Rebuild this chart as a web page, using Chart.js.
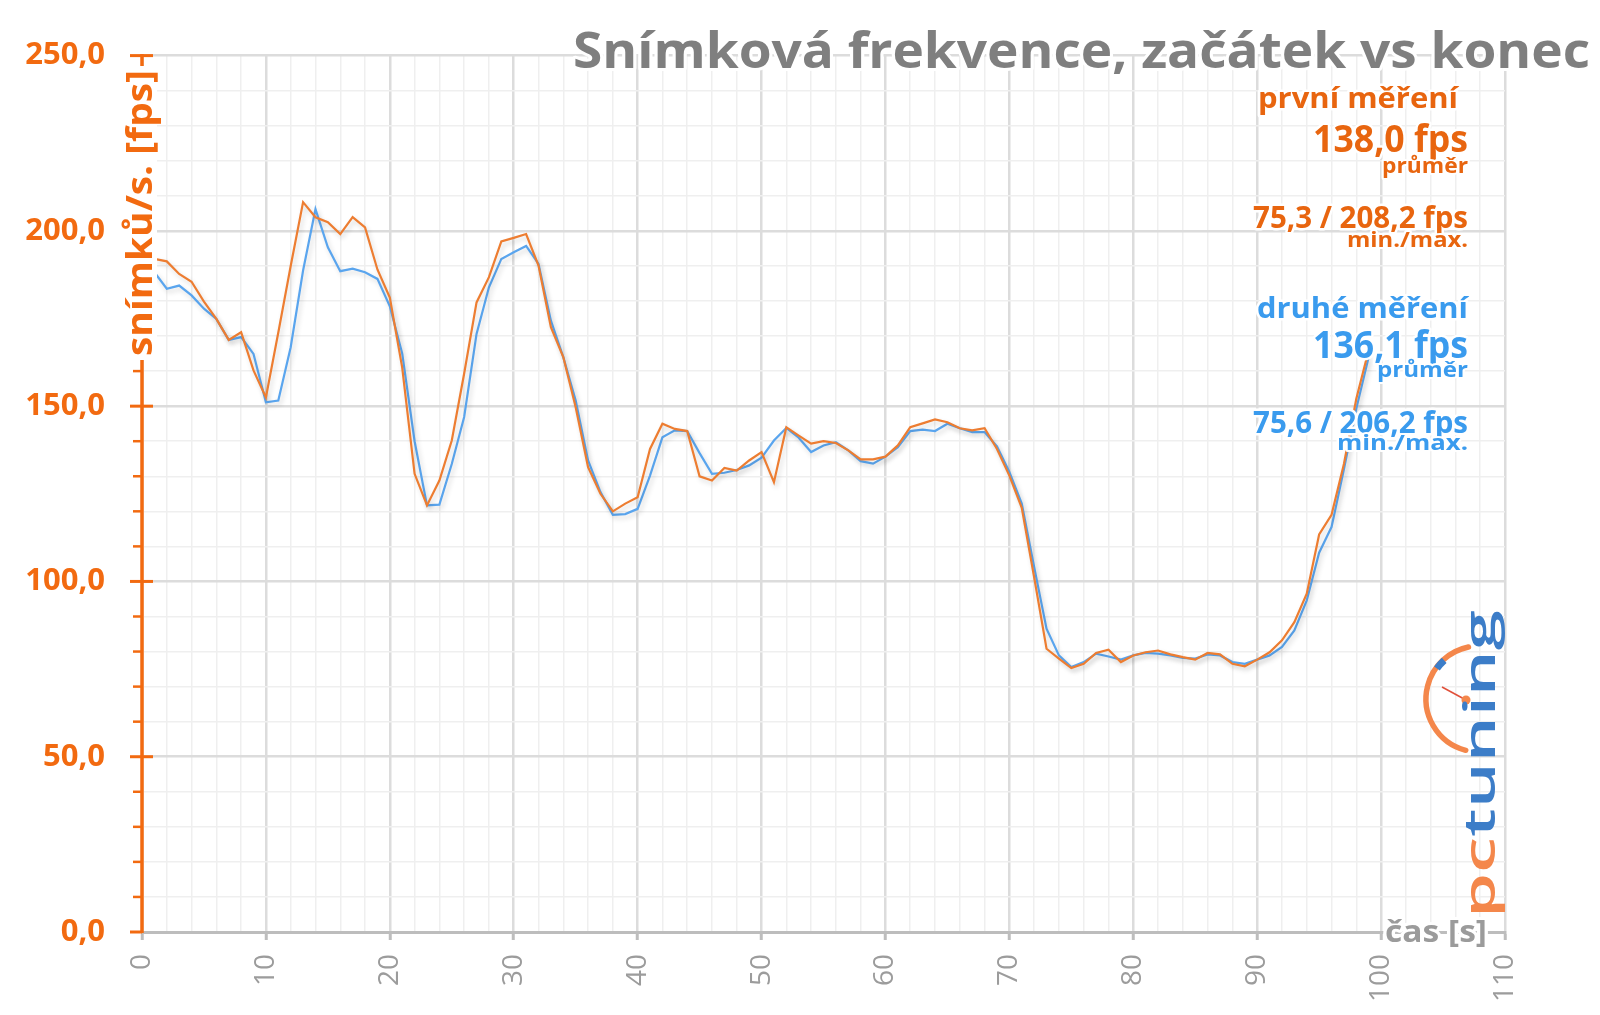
<!DOCTYPE html>
<html><head><meta charset="utf-8">
<script src="https://cdn.jsdelivr.net/npm/chart.js@4.4.1/dist/chart.umd.min.js"></script>
<style>html,body{margin:0;padding:0;background:#fff;}#wrap{width:1600px;height:1015px;}canvas{display:block;}</style>
</head><body><div id="wrap"><canvas id="c" width="1600" height="1015"></canvas></div>
<script>
// ---- data ----
const seconds = [1,2,3,4,5,6,7,8,9,10,11,12,13,14,15,16,17,18,19,20,21,22,23,24,25,26,27,28,29,30,31,32,33,34,35,36,37,38,39,40,41,42,43,44,45,46,47,48,49,50,51,52,53,54,55,56,57,58,59,60,61,62,63,64,65,66,67,68,69,70,71,72,73,74,75,76,77,78,79,80,81,82,83,84,85,86,87,88,89,90,91,92,93,94,95,96,97,98,99];
const firstRun = [192.0,191.3,187.7,185.5,179.8,174.9,168.9,171.1,160.2,152.5,171.0,190.0,208.2,203.9,202.5,199.1,203.9,201.0,189.0,181.0,161.0,130.7,121.7,128.8,140.2,159.3,179.6,186.8,197.0,198.0,199.1,190.1,172.5,164.0,149.7,132.6,125.0,120.0,122.2,124.0,137.8,145.0,143.5,142.9,130.0,128.8,132.4,131.6,134.5,136.9,128.3,144.0,141.6,139.3,140.0,139.5,137.4,134.8,134.8,135.6,138.8,144.0,145.1,146.2,145.4,143.7,143.1,143.7,137.8,130.2,121.0,101.2,80.8,78.0,75.3,76.5,79.6,80.5,77.0,78.9,79.8,80.3,79.2,78.4,77.7,79.6,79.2,76.5,75.8,77.7,79.8,83.2,88.4,96.5,113.4,119.0,133.5,152.1,166.0];
const secondRun = [188.2,183.5,184.4,181.6,177.8,174.9,168.9,169.7,164.9,151.1,151.6,166.8,188.7,206.2,195.3,188.5,189.2,188.2,186.3,178.5,165.0,140.0,121.7,121.9,133.5,146.9,170.6,183.9,192.0,193.9,195.7,190.6,174.4,164.0,151.6,134.5,125.5,119.0,119.2,120.7,130.2,141.1,143.1,142.9,136.6,130.7,131.0,131.8,133.1,135.3,140.2,143.8,141.0,136.9,138.8,139.7,137.4,134.3,133.6,135.6,138.3,142.9,143.3,142.9,145.0,143.7,142.6,142.6,138.5,131.2,122.2,104.1,86.5,78.9,75.6,77.0,79.4,78.6,77.7,78.9,79.6,79.4,78.9,78.2,78.0,79.2,78.9,77.0,76.5,77.7,78.9,81.3,86.0,94.6,108.2,115.5,132.0,149.3,164.0];
const yTickValues = [0,10,20,30,40,50,60,70,80,90,100,110,120,130,140,150,160,170,180,190,200,210,220,230,240,250];
const xTickValues = [0,2,4,6,8,10,12,14,16,18,20,22,24,26,28,30,32,34,36,38,40,42,44,46,48,50,52,54,56,58,60,62,64,66,68,70,72,74,76,78,80,82,84,86,88,90,92,94,96,98,100,102,104,106,108,110];
const chartTitle = 'Snímková frekvence, začátek vs konec';
const yAxisTitle = 'snímků/s. [fps]';
const xAxisTitle = 'čas [s]';
const firstName = 'první měření', firstAvg = '138,0 fps', firstMinMax = '75,3 / 208,2 fps';
const secondName = 'druhé měření', secondAvg = '136,1 fps', secondMinMax = '75,6 / 206,2 fps';
const avgWord = 'průměr', minMaxWord = 'min./max.';

const FONT = "'Open Sans', 'Noto Sans', sans-serif";
const ORANGE_TXT = '#E8650F', BLUE_TXT = '#3A9BEE', AXIS_OR = '#F26A10';

function fitText(ctx, text, x, y, o) {
  ctx.save();
  ctx.font = o.font;
  const w = ctx.measureText(text).width;
  const sx = o.width ? o.width / w : 1;
  ctx.translate(x, y);
  if (o.rotate) ctx.rotate(o.rotate);
  ctx.scale(sx, 1);
  ctx.textAlign = o.align || 'left';
  ctx.textBaseline = o.baseline || 'alphabetic';
  if (o.halo) { ctx.lineJoin = 'round'; ctx.strokeStyle = '#fff'; ctx.lineWidth = o.halo; ctx.strokeText(text, 0, 0); }
  ctx.fillStyle = o.color; ctx.fillText(text, 0, 0);
  ctx.restore();
}

const shadowPlugin = {
  id: 'shadow',
  beforeDatasetDraw(chart) { const c = chart.ctx; c.save(); c.shadowColor = 'rgba(0,0,0,0.16)'; c.shadowBlur = 5; c.shadowOffsetX = 2; c.shadowOffsetY = 3; },
  afterDatasetDraw(chart) { chart.ctx.restore(); }
};

const overlay = {
  id: 'overlay',
  afterDraw(chart) {
    const ctx = chart.ctx, ys = chart.scales.y, xs = chart.scales.x;
    const ax = xs.getPixelForValue(0);
    ctx.save();
    ctx.strokeStyle = AXIS_OR; ctx.lineCap = 'butt';
    ctx.lineWidth = 3.5;
    ctx.beginPath(); ctx.moveTo(ax, ys.getPixelForValue(0) + 1); ctx.lineTo(ax, ys.getPixelForValue(250) - 1.5); ctx.stroke();
    yTickValues.forEach(v => {
      const py = ys.getPixelForValue(v);
      ctx.beginPath();
      if (v % 50 === 0) { ctx.lineWidth = 3; ctx.moveTo(ax - 12, py); ctx.lineTo(v === 0 ? ax : ax + 11, py); }
      else { ctx.lineWidth = 2.5; ctx.moveTo(ax - 9, py); ctx.lineTo(ax + 1, py); }
      ctx.stroke();
    });
    ctx.fillStyle = '#fff';
    ctx.fillRect(ax - 16, 66, 31, 294);
    ctx.restore();
    fitText(ctx, yAxisTitle, ax + 10, 213, { font: 'bold 36px ' + FONT, width: 286, align: 'center', rotate: -Math.PI / 2, color: AXIS_OR });
    fitText(ctx, xAxisTitle, 1385, 942, { font: 'bold 30px ' + FONT, width: 102, color: '#9b9b9b', halo: 6 });
    fitText(ctx, chartTitle, 1590, 68, { font: 'bold 51px ' + FONT, width: 1017, align: 'right', color: '#7f7f7f', halo: 6 });
    const R = 1468;
    fitText(ctx, firstName, 1458, 108, { font: 'bold 28px ' + FONT, width: 200, align: 'right', color: ORANGE_TXT, halo: 5 });
    fitText(ctx, firstAvg, R, 152, { font: 'bold 37px ' + FONT, width: 155, align: 'right', color: ORANGE_TXT, halo: 5 });
    fitText(ctx, avgWord, R, 173, { font: 'bold 21px ' + FONT, width: 86, align: 'right', color: ORANGE_TXT, halo: 4 });
    fitText(ctx, firstMinMax, R, 228, { font: 'bold 30px ' + FONT, width: 215, align: 'right', color: ORANGE_TXT, halo: 5 });
    fitText(ctx, minMaxWord, R, 247, { font: 'bold 21px ' + FONT, width: 121, align: 'right', color: ORANGE_TXT, halo: 4 });
    fitText(ctx, secondName, R, 318, { font: 'bold 29px ' + FONT, width: 211, align: 'right', color: BLUE_TXT, halo: 5 });
    fitText(ctx, secondAvg, R, 358, { font: 'bold 37px ' + FONT, width: 155, align: 'right', color: BLUE_TXT, halo: 5 });
    fitText(ctx, avgWord, R, 377, { font: 'bold 21px ' + FONT, width: 91, align: 'right', color: BLUE_TXT, halo: 4 });
    fitText(ctx, secondMinMax, R, 433, { font: 'bold 30px ' + FONT, width: 215, align: 'right', color: BLUE_TXT, halo: 5 });
    fitText(ctx, minMaxWord, R, 450, { font: 'bold 21px ' + FONT, width: 131, align: 'right', color: BLUE_TXT, halo: 4 });
    drawLogo(ctx);
  }
};

function drawLogo(ctx) {
  ctx.save();
  const cx = 1479, cy = 699, r = 53;
  ctx.strokeStyle = '#F4874B'; ctx.lineWidth = 5.5; ctx.lineCap = 'round';
  ctx.beginPath(); ctx.arc(cx, cy, r, 104.5 * Math.PI / 180, 258.5 * Math.PI / 180); ctx.stroke();
  ctx.strokeStyle = '#3C7DC8'; ctx.lineWidth = 7; ctx.lineCap = 'butt';
  ctx.beginPath(); ctx.arc(cx, cy, r - 1, 216 * Math.PI / 180, 228 * Math.PI / 180); ctx.stroke();
  ctx.strokeStyle = '#E0503A'; ctx.lineWidth = 1.5;
  ctx.beginPath(); ctx.moveTo(1442, 687); ctx.lineTo(1466, 700); ctx.stroke();
  ctx.fillStyle = '#F4874B';
  ctx.beginPath(); ctx.arc(1466, 700, 4.5, 0, Math.PI * 2); ctx.fill();
  ctx.font = '600 44px ' + FONT;
  const wAll = ctx.measureText('pctuning').width;
  const sx = 308 / wAll;
  const wPc = ctx.measureText('pc').width;
  ctx.translate(1495, 918); ctx.rotate(-Math.PI / 2); ctx.scale(sx, 1);
  ctx.textAlign = 'left'; ctx.textBaseline = 'alphabetic';
  ctx.fillStyle = '#F4874B'; ctx.fillText('pc', 0, 0);
  ctx.fillStyle = '#3C7DC8'; ctx.fillText('tuning', wPc, 0);
  ctx.restore();
}

const toPoints = arr => seconds.map((t, i) => ({ x: t, y: arr[i] }));

new Chart(document.getElementById('c'), {
  type: 'line',
  data: {
    datasets: [
      { label: firstName, data: toPoints(firstRun), borderColor: '#ED7D31', borderWidth: 2.2, pointRadius: 0, tension: 0, fill: false },
      { label: secondName, data: toPoints(secondRun), borderColor: '#5AA5EE', borderWidth: 2.2, pointRadius: 0, tension: 0, fill: false }
    ]
  },
  options: {
    responsive: false, animation: false, devicePixelRatio: 1,
    layout: { padding: { top: 55, right: 95, left: 0, bottom: 0 } },
    plugins: { legend: { display: false }, tooltip: { enabled: false }, title: { display: false } },
    scales: {
      x: {
        type: 'linear', min: 0, max: 110,
        afterBuildTicks: s => { s.ticks = xTickValues.map(v => ({ value: v })); },
        afterFit: s => { s.height = 83; },
        ticks: { callback: v => (v % 10 === 0 ? String(v) : ''), minRotation: 90, maxRotation: 90, autoSkip: false, color: '#9c9c9c', font: { family: FONT, size: 28 }, padding: 14 },
        grid: {
          color: c => (c.tick && c.tick.value % 10 === 0 ? '#dcdcdc' : '#efefef'),
          lineWidth: c => (c.tick && c.tick.value % 10 === 0 ? 2.5 : 1.5),
          tickLength: 8, tickWidth: 3,
          tickColor: c => (c.tick && c.tick.value % 10 === 0 ? '#bdbdbd' : 'rgba(0,0,0,0)')
        },
        border: { display: true, color: '#bdbdbd', width: 3 }
      },
      y: {
        min: 0, max: 250,
        afterBuildTicks: s => { s.ticks = yTickValues.map(v => ({ value: v })); },
        afterFit: s => { s.width = 142; },
        ticks: { callback: v => (v % 50 === 0 ? v.toFixed(1).replace('.', ',') : ''), autoSkip: false, color: AXIS_OR, font: { family: FONT, size: 31, weight: 'bold' }, padding: 37 },
        grid: {
          color: c => (c.tick && c.tick.value % 50 === 0 ? '#dcdcdc' : '#efefef'),
          lineWidth: c => (c.tick && c.tick.value % 50 === 0 ? 2.5 : 1.5),
          drawTicks: false
        },
        border: { display: false }
      }
    }
  },
  plugins: [shadowPlugin, overlay]
});
</script></body></html>
